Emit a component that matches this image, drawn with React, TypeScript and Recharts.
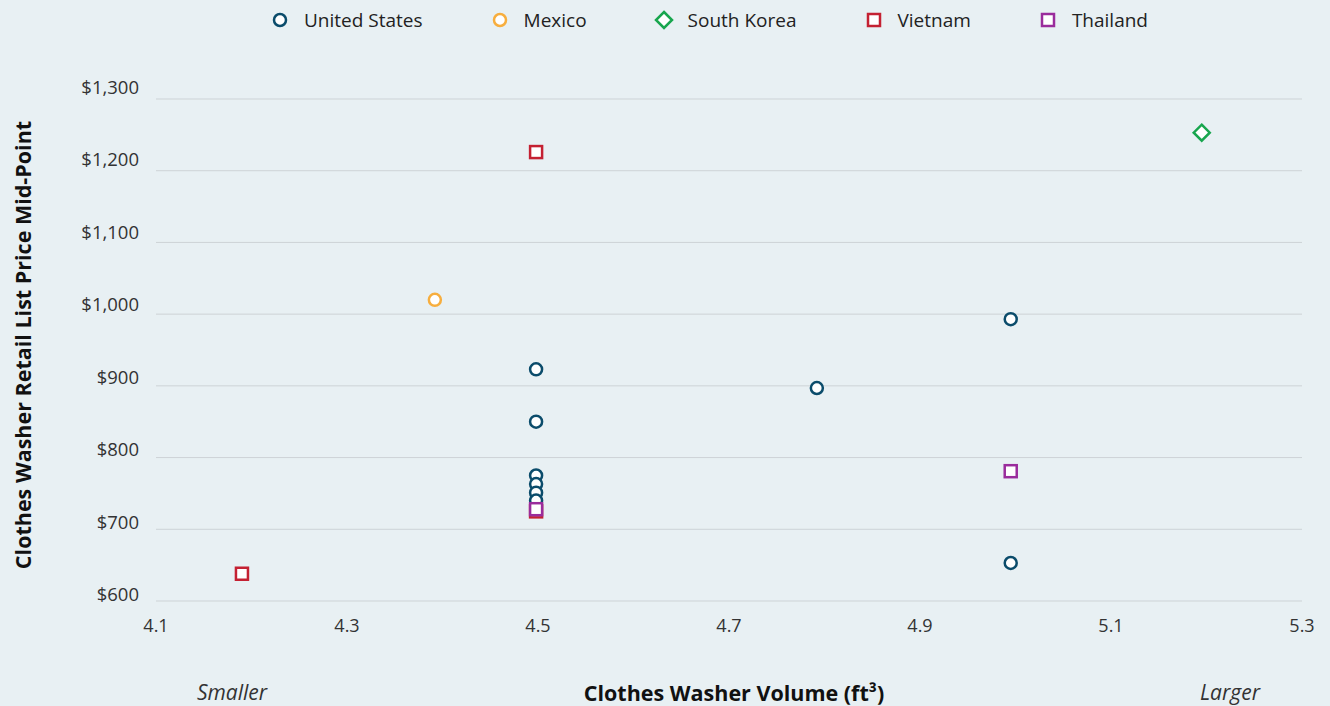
import React from 'react';
import { ScatterChart, Scatter, XAxis, YAxis, CartesianGrid } from 'recharts';

const xTicks = [4.1, 4.3, 4.5, 4.7, 4.9, 5.1, 5.3];
const yTicks = [600, 700, 800, 900, 1000, 1100, 1200, 1300];

const unitedStates = [
  { x: 4.498, y: 923 },
  { x: 4.498, y: 850 },
  { x: 4.498, y: 775 },
  { x: 4.498, y: 763 },
  { x: 4.498, y: 751 },
  { x: 4.498, y: 740 },
  { x: 4.792, y: 897 },
  { x: 4.995, y: 993 },
  { x: 4.995, y: 653 },
];
const mexico = [{ x: 4.392, y: 1020 }];
const southKorea = [{ x: 5.195, y: 1253 }];
const vietnam = [
  { x: 4.498, y: 1226 },
  { x: 4.19, y: 638 },
  { x: 4.498, y: 725 },
];
const thailand = [
  { x: 4.498, y: 728 },
  { x: 4.995, y: 781 },
];

const FONT = '"Open Sans", sans-serif';
const BG = '#E8F0F3';

type Kind = 'circle' | 'square' | 'diamond';
const series: { name: string; data: { x: number; y: number }[]; color: string; kind: Kind }[] = [
  { name: 'United States', data: unitedStates, color: '#0B4C6B', kind: 'circle' },
  { name: 'Mexico', data: mexico, color: '#F7AE3E', kind: 'circle' },
  { name: 'South Korea', data: southKorea, color: '#18A64E', kind: 'diamond' },
  { name: 'Vietnam', data: vietnam, color: '#C42132', kind: 'square' },
  { name: 'Thailand', data: thailand, color: '#9A2C9C', kind: 'square' },
];

function Marker({ cx, cy, color, kind }: { cx: number; cy: number; color: string; kind: Kind }) {
  if (kind === 'circle') {
    return <circle cx={cx} cy={cy} r={6} fill="#fff" stroke={color} strokeWidth={2.5} />;
  }
  if (kind === 'square') {
    return <rect x={cx - 6} y={cy - 6} width={12} height={12} fill="#fff" stroke={color} strokeWidth={2.5} />;
  }
  const d = 8;
  return (
    <path
      d={`M${cx},${cy - d} L${cx + d},${cy} L${cx},${cy + d} L${cx - d},${cy} Z`}
      fill="#fff"
      stroke={color}
      strokeWidth={2.5}
    />
  );
}

function LegendIcon({ color, kind }: { color: string; kind: Kind }) {
  return (
    <svg width={20} height={20} style={{ display: 'block' }}>
      <Marker cx={10} cy={10} color={color} kind={kind} />
    </svg>
  );
}

function YTick(props: any) {
  const { x, y, payload } = props;
  const v = payload.value as number;
  const dy = -13 + ((1300 - v) / 700) * 5.5;
  return (
    <text
      x={x}
      y={y + dy}
      textAnchor="end"
      dominantBaseline="central"
      fill="#333"
      fontSize={18.5}
      fontFamily={FONT}
    >
      {`$${v.toLocaleString('en-US')}`}
    </text>
  );
}

export default function App() {
  return (
    <div
      style={{
        position: 'absolute',
        left: 0,
        top: 0,
        width: 1330,
        height: 706,
        background: BG,
        fontFamily: FONT,
        overflow: 'hidden',
      }}
    >
      <div
        style={{
          position: 'absolute',
          top: 7,
          left: 270,
          display: 'flex',
          alignItems: 'center',
          fontSize: 19,
          color: '#222',
        }}
      >
        {series.map((s) => (
          <div key={s.name} style={{ display: 'flex', alignItems: 'center', marginRight: 67 }}>
            <LegendIcon color={s.color} kind={s.kind} />
            <span style={{ marginLeft: 14 }}>{s.name}</span>
          </div>
        ))}
      </div>
      <ScatterChart width={1330} height={706} margin={{ top: 99, right: 28, bottom: 0, left: 0 }}>
        <CartesianGrid vertical={false} stroke="#CDD3D6" strokeWidth={1} />
        <XAxis
          type="number"
          dataKey="x"
          domain={[4.1, 5.3]}
          ticks={xTicks}
          tickFormatter={(v: number) => v.toFixed(1)}
          axisLine={false}
          tickLine={false}
          tickSize={0}
          tickMargin={18}
          height={105}
          tick={{ fill: '#333', fontSize: 18, fontFamily: FONT }}
          label={{
            content: (props: any) => {
              const vb = props.viewBox || {};
              const cy = vb.y + 91;
              return (
                <g fontFamily={FONT}>
                  <text x={232} y={cy} textAnchor="middle" dominantBaseline="central" fontSize={21} fontStyle="italic" fill="#333">
                    Smaller
                  </text>
                  <text
                    x={vb.x + vb.width / 2 + 5}
                    y={cy}
                    textAnchor="middle"
                    dominantBaseline="central"
                    fontSize={21.5}
                    fontWeight={700}
                    fill="#111"
                  >
                    Clothes Washer Volume (ft³)
                  </text>
                  <text x={1230} y={cy} textAnchor="middle" dominantBaseline="central" fontSize={21} fontStyle="italic" fill="#333">
                    Larger
                  </text>
                </g>
              );
            },
          }}
        />
        <YAxis
          type="number"
          dataKey="y"
          domain={[600, 1300]}
          ticks={yTicks}
          axisLine={false}
          tickLine={false}
          tickSize={0}
          tickMargin={17}
          width={156}
          tick={<YTick />}
          label={{
            content: (props: any) => {
              const vb = props.viewBox || {};
              const cx = 22;
              const cy = vb.y + vb.height / 2 - 5;
              return (
                <text
                  x={cx}
                  y={cy}
                  transform={`rotate(-90, ${cx}, ${cy})`}
                  textAnchor="middle"
                  dominantBaseline="central"
                  fontSize={21.5}
                  fontWeight={700}
                  fill="#111"
                  fontFamily={FONT}
                >
                  Clothes Washer Retail List Price Mid-Point
                </text>
              );
            },
          }}
        />
        {series.map((s) => (
          <Scatter
            key={s.name}
            name={s.name}
            data={s.data}
            isAnimationActive={false}
            shape={(p: any) => <Marker cx={p.cx} cy={p.cy} color={s.color} kind={s.kind} />}
          />
        ))}
      </ScatterChart>
    </div>
  );
}
